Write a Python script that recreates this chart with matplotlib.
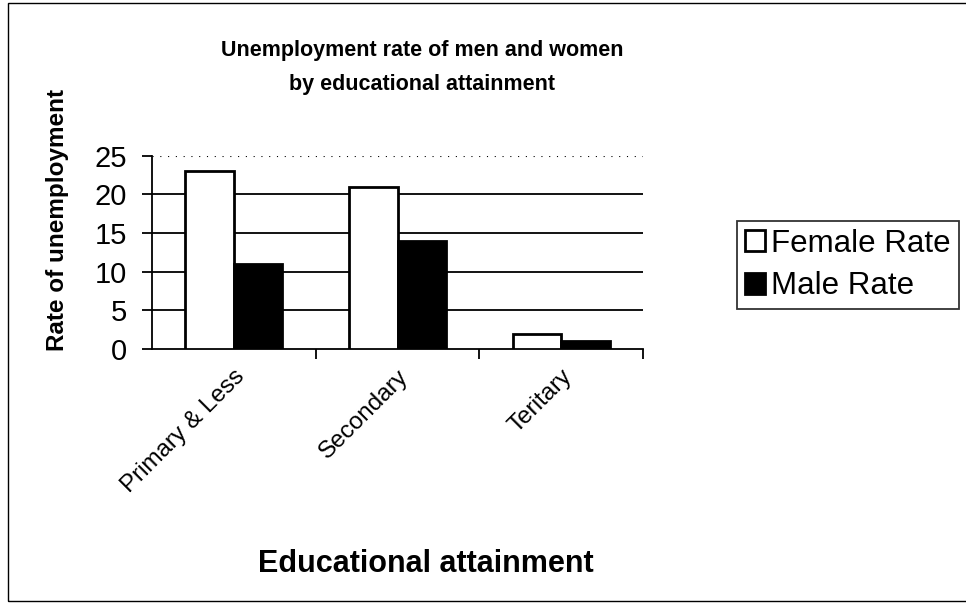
import numpy as np
import matplotlib.pyplot as plt
from matplotlib.patches import Rectangle

plt.rcParams['font.family'] = ['Liberation Sans', 'DejaVu Sans']

categories = ['Primary & Less', 'Secondary', 'Teritary']
female_rate = [23, 21, 2]
male_rate = [11, 14, 1]

fig = plt.figure(figsize=(9.66, 6.04), dpi=100)
ax = fig.add_axes([0.157, 0.422, 0.509, 0.320])

x = np.arange(len(categories))
w = 0.295
ax.bar(x - w / 2, female_rate, w, color='white', edgecolor='black', linewidth=2,
       label='Female Rate', zorder=3)
ax.bar(x + w / 2, male_rate, w, color='black', edgecolor='black', linewidth=2,
       label='Male Rate', zorder=3)

ax.set_xlim(-0.5, 2.5)
ax.set_ylim(0, 25)
ax.set_yticks([0, 5, 10, 15, 20, 25])
for v in [5, 10, 15, 20]:
    ax.axhline(v, color='black', linewidth=1.3, zorder=1)
ax.axhline(25, color='black', linewidth=0.8, linestyle=(0, (1, 6)), zorder=1)

ax.set_xticks(x)
ax.set_xticklabels(categories, rotation=45, ha='right', rotation_mode='anchor',
                   fontsize=17.5)
ax.set_xticks([0.5, 1.5, 2.5], minor=True)
ax.tick_params(axis='x', which='major', length=0, pad=12)
ax.tick_params(axis='x', which='minor', length=7, width=1.3, direction='out')
ax.tick_params(axis='y', labelsize=21, length=7, width=1.3, direction='out', pad=11)

for s in ['top', 'right']:
    ax.spines[s].set_visible(False)
for s in ['left', 'bottom']:
    ax.spines[s].set_linewidth(1.3)

ax.set_ylabel('Rate of unemployment', fontsize=17.5, fontweight='bold')
ax.yaxis.set_label_coords(-0.168, 0.67)
fig.text(0.441, 0.066, 'Educational attainment', ha='center', va='center',
         fontsize=22, fontweight='bold')
fig.text(0.437, 0.888, 'Unemployment rate of men and women\nby educational attainment',
         ha='center', va='center', fontsize=15.5, fontweight='bold', linespacing=1.8)

leg = ax.legend(loc='upper left', bbox_to_anchor=(0.763, 0.634),
                bbox_transform=fig.transFigure, fontsize=22.5, frameon=True,
                fancybox=False, edgecolor='black', handlelength=0.65,
                handleheight=0.65, handletextpad=0.2, borderpad=0.25,
                labelspacing=0.4, borderaxespad=0)
leg.get_frame().set_linewidth(1.3)

fig.patches.append(Rectangle((0.008, 0.005), 1.2, 0.99, transform=fig.transFigure,
                             fill=False, edgecolor='black', linewidth=1.0))

fig.savefig('out.png', dpi=100)
